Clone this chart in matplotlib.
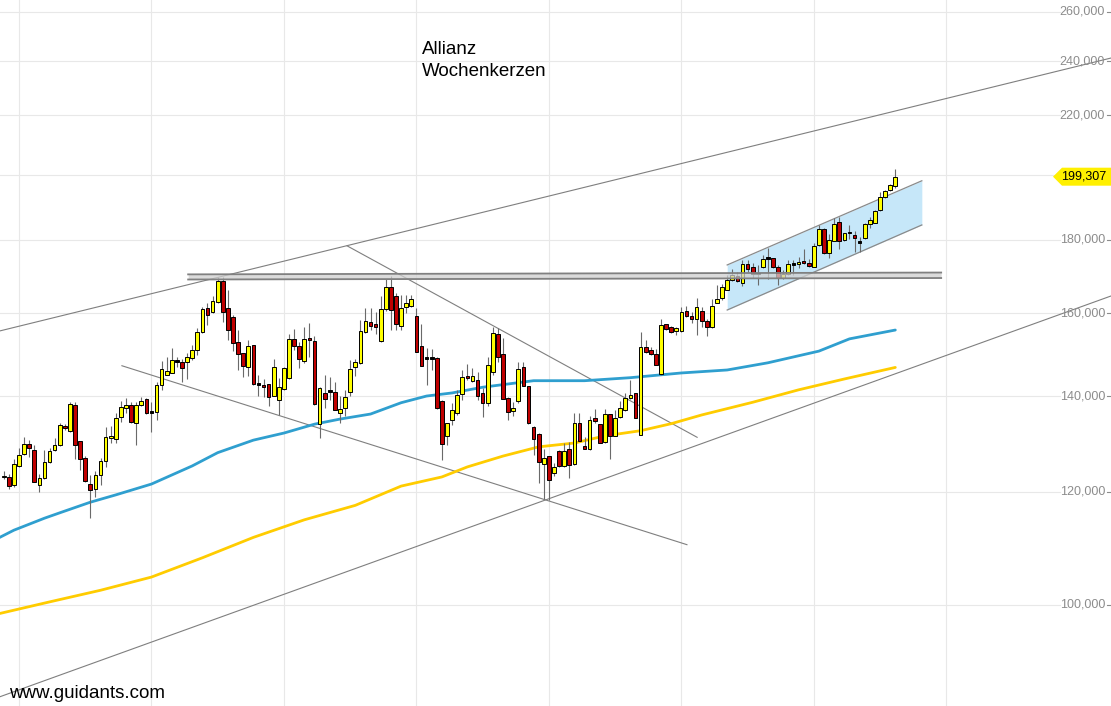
import matplotlib
matplotlib.use("Agg")
import matplotlib.pyplot as plt
import numpy as np
from matplotlib.patches import Polygon
from matplotlib.transforms import IdentityTransform, blended_transform_factory

plt.rcParams["font.family"] = ["Liberation Sans", "DejaVu Sans"]

TITLE_1 = "Allianz"
TITLE_2 = "Wochenkerzen"
SOURCE = "www.guidants.com"

# weekly candles (EUR), oldest first
opens = [
    122.8, 122.9, 121.4, 125.0, 127.5, 129.5, 128.4, 121.4, 122.6, 125.8,
    128.3, 129.3, 133.3, 132.4, 137.9, 130.2, 126.7, 121.5, 120.6, 123.3,
    126.1, 130.9, 130.6, 135.3, 137.4, 138.1, 134.0, 137.9, 139.3, 136.3,
    136.4, 142.5, 144.9, 145.4, 147.9, 147.8, 147.8, 148.8, 150.8, 155.3,
    161.2, 160.2, 162.8, 168.6, 161.2, 158.9, 152.7, 150.0, 146.8, 152.0,
    142.6, 142.5, 142.7, 140.0, 139.1, 141.6, 144.1, 153.4, 151.8, 148.2,
    153.6, 153.0, 133.8, 140.6, 141.0, 140.8, 136.2, 137.3, 140.9, 146.8,
    147.6, 155.1, 157.6, 157.1, 153.0, 161.0, 166.8, 164.5, 156.7, 161.5,
    161.9, 159.2, 151.8, 148.6, 148.7, 148.8, 138.9, 131.2, 134.8, 136.3,
    140.5, 144.7, 143.5, 143.7, 140.6, 138.5, 145.6, 154.7, 149.8, 139.6,
    136.7, 138.9, 146.6, 142.2, 133.1, 131.6, 125.4, 127.1, 123.6, 128.2,
    125.1, 128.5, 125.4, 134.1, 129.2, 128.5, 135.1, 133.8, 130.0, 135.9,
    131.3, 135.3, 136.9, 139.5, 140.6, 131.5, 151.4, 150.8, 149.8, 145.1,
    157.1, 156.4, 155.4, 155.5, 160.6, 159.2, 158.4, 160.6, 158.1, 156.4,
    162.7, 163.9, 166.1, 168.8, 169.9, 167.9, 173.1, 172.3, 170.3, 172.3,
    174.7, 174.8, 172.4, 169.3, 170.4, 173.0, 173.1, 174.0, 173.4, 172.4,
    178.6, 183.1, 176.2, 179.8, 185.3, 180.0, 181.9, 181.4, 179.2, 180.5,
    184.6, 185.1, 188.9, 192.8, 195.0, 196.3,
]
highs = [
    124.1, 123.5, 126.5, 128.8, 131.1, 130.4, 129.4, 123.4, 128.4, 128.8,
    130.9, 134.0, 133.8, 138.7, 138.7, 130.3, 127.1, 123.3, 124.0, 126.7,
    133.2, 133.3, 136.2, 138.9, 139.5, 138.7, 138.7, 139.8, 139.5, 138.7,
    143.2, 148.1, 149.2, 151.2, 149.2, 148.6, 150.0, 152.0, 156.1, 161.7,
    162.5, 164.5, 169.7, 169.7, 166.1, 159.5, 155.7, 150.1, 153.2, 152.1,
    144.9, 143.9, 142.8, 148.6, 144.1, 146.6, 154.7, 156.0, 152.8, 156.5,
    157.5, 154.2, 142.0, 144.9, 144.3, 143.3, 139.9, 141.4, 148.4, 148.6,
    158.2, 161.2, 161.2, 160.4, 164.5, 169.0, 169.9, 165.2, 164.8, 164.8,
    164.8, 161.2, 157.3, 151.2, 151.0, 149.2, 139.0, 134.1, 138.4, 141.4,
    146.0, 147.4, 146.4, 145.6, 141.8, 149.2, 156.5, 156.1, 153.6, 139.7,
    138.7, 147.8, 147.8, 142.2, 133.4, 132.0, 128.5, 127.2, 125.7, 128.3,
    129.8, 130.0, 136.3, 136.2, 131.1, 135.6, 137.1, 133.9, 137.1, 136.0,
    136.9, 138.9, 140.6, 143.7, 140.7, 155.3, 153.2, 151.6, 151.0, 158.6,
    157.3, 156.7, 156.5, 161.7, 161.8, 160.4, 163.9, 161.7, 158.6, 163.8,
    167.4, 167.7, 170.2, 171.7, 171.0, 174.3, 174.3, 173.4, 172.9, 175.7,
    177.6, 174.9, 172.9, 171.5, 174.3, 174.3, 175.2, 177.3, 174.5, 179.2,
    184.4, 183.4, 181.8, 186.4, 186.7, 182.1, 184.4, 182.5, 180.8, 185.1,
    186.7, 188.9, 194.6, 195.1, 197.0, 201.7,
]
lows = [
    122.5, 120.6, 121.0, 124.9, 127.3, 127.0, 121.9, 120.0, 122.5, 125.7,
    128.2, 129.2, 132.6, 132.2, 126.6, 124.3, 122.0, 115.0, 119.0, 121.3,
    124.8, 129.7, 129.7, 134.3, 136.2, 134.1, 129.4, 137.8, 136.1, 132.2,
    134.7, 141.4, 144.8, 145.3, 146.8, 143.3, 143.9, 148.4, 149.6, 154.9,
    156.9, 159.9, 162.7, 157.8, 153.2, 150.6, 146.0, 144.3, 144.5, 142.6,
    139.9, 139.7, 137.7, 139.9, 135.8, 141.4, 143.9, 150.8, 146.4, 147.6,
    149.2, 138.1, 130.8, 137.3, 139.1, 136.8, 134.0, 135.5, 139.9, 144.5,
    147.5, 154.9, 155.7, 154.7, 152.8, 160.6, 155.7, 155.7, 155.7, 159.9,
    161.6, 150.4, 147.0, 142.6, 146.0, 137.2, 126.3, 129.4, 133.6, 135.8,
    139.1, 143.7, 143.3, 139.1, 135.3, 137.7, 144.9, 148.0, 139.3, 134.7,
    135.6, 138.5, 142.2, 133.9, 127.3, 121.8, 118.7, 118.4, 123.1, 124.9,
    124.9, 122.6, 125.3, 130.2, 128.5, 128.4, 134.0, 129.8, 129.9, 126.6,
    131.2, 135.1, 136.7, 139.4, 135.1, 131.4, 150.1, 149.6, 147.1, 144.8,
    155.7, 154.9, 154.5, 155.3, 159.1, 157.5, 154.5, 156.5, 154.1, 156.1,
    162.5, 163.4, 166.1, 168.6, 168.1, 167.2, 171.0, 169.4, 167.3, 172.0,
    168.9, 172.0, 167.4, 169.1, 170.2, 170.2, 172.0, 173.2, 172.2, 172.4,
    178.3, 175.9, 174.8, 179.8, 177.3, 179.7, 180.2, 176.6, 176.6, 180.4,
    183.4, 184.9, 188.7, 192.5, 194.7, 195.8,
]
closes = [
    122.9, 121.2, 125.4, 127.3, 129.5, 128.7, 122.0, 122.6, 125.8, 128.1,
    129.3, 133.6, 132.9, 138.2, 129.3, 126.5, 122.1, 120.3, 123.3, 126.1,
    131.0, 131.0, 135.1, 137.5, 137.9, 134.2, 137.9, 138.8, 136.2, 136.3,
    142.5, 146.2, 145.8, 148.3, 147.9, 146.5, 149.0, 150.7, 155.3, 161.0,
    159.5, 163.1, 168.6, 160.2, 155.7, 152.4, 149.8, 147.0, 151.8, 142.7,
    142.6, 142.0, 139.7, 146.6, 142.0, 146.4, 153.4, 151.8, 148.6, 153.4,
    153.1, 138.2, 141.8, 139.3, 141.0, 136.9, 137.1, 139.8, 146.2, 147.9,
    155.5, 158.0, 156.7, 156.4, 161.0, 166.8, 160.8, 157.1, 161.2, 162.5,
    163.6, 150.4, 147.0, 148.6, 148.7, 137.3, 129.6, 134.0, 136.9, 140.2,
    144.3, 144.1, 144.7, 140.1, 138.4, 147.2, 154.9, 149.0, 139.3, 136.5,
    137.3, 146.2, 142.3, 134.0, 130.6, 125.8, 126.7, 122.3, 124.8, 125.1,
    128.1, 125.3, 134.0, 130.2, 128.5, 134.8, 134.5, 129.9, 135.9, 131.2,
    135.1, 137.3, 139.5, 140.2, 135.2, 151.4, 150.4, 149.8, 147.2, 156.9,
    155.9, 155.3, 156.1, 160.4, 159.3, 158.6, 161.5, 158.0, 156.4, 161.9,
    163.6, 166.8, 168.8, 170.2, 168.6, 173.1, 171.7, 170.4, 170.3, 174.7,
    174.7, 172.4, 169.3, 170.3, 173.1, 173.0, 173.7, 173.4, 172.6, 178.3,
    183.2, 176.4, 180.0, 184.7, 179.8, 181.9, 181.9, 180.5, 179.2, 184.6,
    185.9, 188.6, 192.8, 194.9, 196.7, 199.307,
]

# moving averages, read at selected weeks
ma_blue_weeks = [-1, 2, 8, 11, 17, 22, 29, 37, 42, 49, 55, 61, 66, 72, 78, 83,
                 88, 94, 104, 114, 123, 133, 142, 150, 160, 166, 175]
ma_blue = [111.4, 112.8, 115.0, 116.0, 118.0, 119.4, 121.5, 125.1, 127.8, 130.4,
           131.9, 133.8, 134.9, 136.0, 138.5, 140.0, 140.7, 142.0, 143.5, 143.5,
           144.2, 145.3, 146.0, 147.7, 150.5, 153.5, 155.7]
ma_gold_weeks = [-1, 9, 19, 29, 39, 49, 59, 69, 78, 86, 91, 98, 105, 112, 118,
                 125, 131, 137, 147, 156, 165, 175]
ma_gold = [98.6, 100.5, 102.4, 104.6, 107.9, 111.5, 114.7, 117.4, 121.1, 122.9,
           124.9, 127.1, 129.0, 129.8, 131.3, 132.4, 133.9, 135.8, 138.6, 141.4,
           143.9, 146.6]

# hand-drawn trend lines: (week, price) end points
trend_upper = [(-1, 155.4), (218, 241.6)]
trend_lower = [(-1, 86.2), (218, 164.8)]
trend_down_1 = [(67.4, 178.3), (136.1, 131.0)]
trend_down_2 = [(23.2, 147.0), (134.1, 110.2)]
band_weeks = [36.2, 184.0]
band_top = [170.3, 170.8]
band_bottom = [168.9, 169.3]
channel_weeks = [142.0, 180.2]
channel_top = [172.9, 198.0]
channel_bottom = [160.8, 184.4]

price_ticks = [100, 120, 140, 160, 180, 200, 220, 240, 260]
grid_weeks = [3, 29, 55, 81, 107, 133, 159, 185]

W, H = 1111, 706
fig = plt.figure(figsize=(W / 100, H / 100), dpi=100)
ax = fig.add_axes([0, 0, 1, 1])
ax.set_yscale("log")
ax.set_xlim(-0.726, 217.33)
ax.set_ylim(84.99, 264.9)
ax.set_axis_off()

xa = blended_transform_factory(ax.transAxes, ax.transData)

# grid
for t in price_ticks:
    ax.plot([0, 1060 / W], [t, t], transform=xa, color="#e8e8e8", lw=0.8, zorder=0)
for g in grid_weeks:
    ax.axvline(g, color="#e8e8e8", lw=0.8, zorder=0)

# tick labels on the right
for t in price_ticks:
    if t == 200:
        continue
    ax.text(1105 / W, t, f"{t:.3f}".replace(".", ","), transform=xa,
            ha="right", va="center", fontsize=9, color="#8c8c8c")
    ax.plot([1107 / W, 1111 / W], [t, t], transform=xa, color="#8c8c8c", lw=0.8)

# channel
ax.fill_between(channel_weeks, channel_bottom, channel_top, color="#c6e7f9", lw=0, zorder=1)
ax.plot(channel_weeks, channel_top, color="#8a8a8a", lw=0.9, zorder=2)
ax.plot(channel_weeks, channel_bottom, color="#8a8a8a", lw=0.9, zorder=2)

# trend lines
for ln in (trend_upper, trend_lower, trend_down_1, trend_down_2):
    ax.plot([p[0] for p in ln], [p[1] for p in ln], color="#7f7f7f", lw=0.8, zorder=2)

# moving averages
ax.plot(ma_blue_weeks, ma_blue, color="#2f9fcf", lw=2.0, zorder=3, solid_capstyle="round")
ax.plot(ma_gold_weeks, ma_gold, color="#ffcc00", lw=2.0, zorder=3, solid_capstyle="round")

# candles
idx = np.arange(len(closes))
o = np.array(opens)
c = np.array(closes)
hi = np.array(highs)
lo = np.array(lows)
ax.vlines(idx, lo, hi, color="#6a6a6a", lw=0.8, zorder=4)
colors = np.where(c > o, "#ffff00", np.where(c < o, "#c00000", "#000000"))
bottom = np.minimum(o, c)
height = np.maximum(np.abs(c - o), bottom * 0.003)
ax.bar(idx, height, bottom=bottom, width=0.72, color=colors, edgecolor="black",
       linewidth=0.7, zorder=5)

# horizontal resistance band
ax.fill_between(band_weeks, band_bottom, band_top, color="#d0d0d0", alpha=0.75, lw=0, zorder=6)
ax.plot(band_weeks, band_top, color="#808080", lw=1.3, zorder=6)
ax.plot(band_weeks, band_bottom, color="#808080", lw=1.3, zorder=6)

# last price tag
y_last = ax.transData.transform((0, closes[-1]))[1]
tag = Polygon([(1053, y_last), (1062, y_last + 9), (1111, y_last + 9),
               (1111, y_last - 9), (1062, y_last - 9)], closed=True,
              transform=IdentityTransform(), facecolor="#fff000", edgecolor="none")
fig.add_artist(tag)
fig.text(1106, y_last, f"{closes[-1]:.3f}".replace(".", ","), transform=IdentityTransform(),
         ha="right", va="center", fontsize=9, color="black")

# titles
ax.text(422 / W, 1 - 54.3 / H, TITLE_1, transform=ax.transAxes, fontsize=13.5,
        ha="left", va="baseline", color="black")
ax.text(422 / W, 1 - 76 / H, TITLE_2, transform=ax.transAxes, fontsize=13.5,
        ha="left", va="baseline", color="black")
ax.text(9 / W, 1 - 698 / H, SOURCE, transform=ax.transAxes, fontsize=13.5,
        ha="left", va="baseline", color="black")

fig.savefig("out.png", dpi=100)
